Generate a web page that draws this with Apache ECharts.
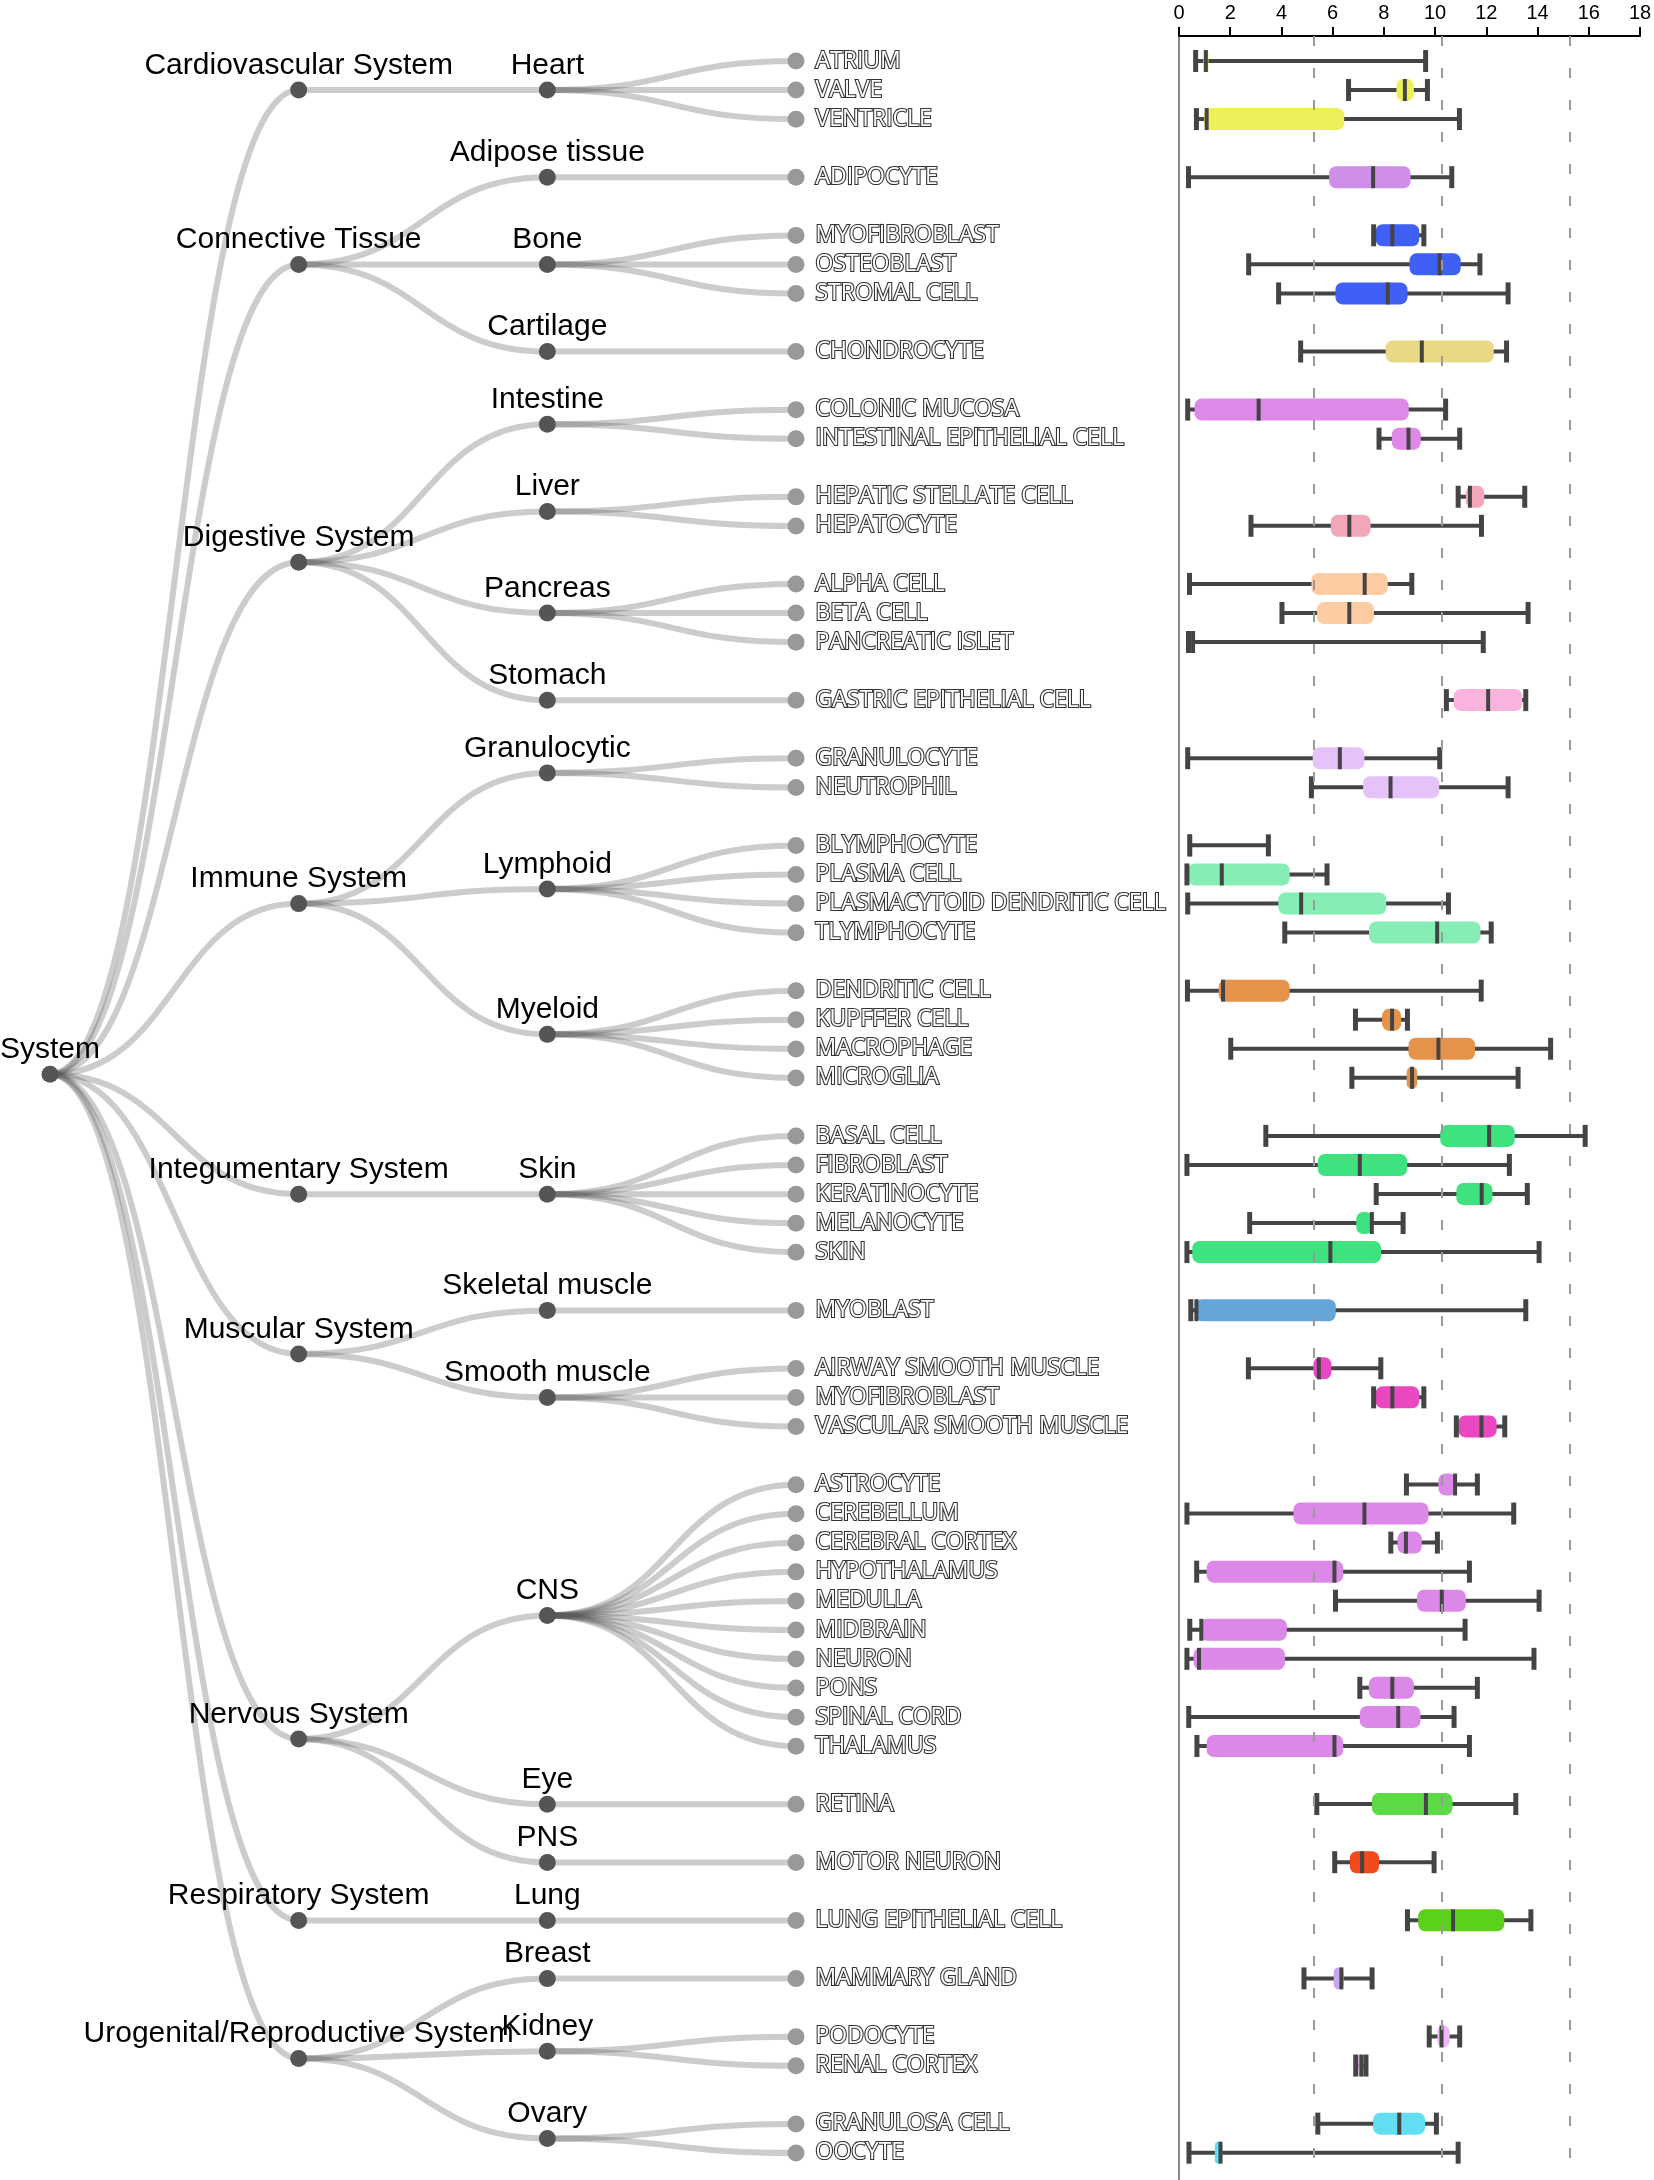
<!DOCTYPE html>
<html><head><meta charset="utf-8">
<script src="https://cdn.jsdelivr.net/npm/echarts@6/dist/echarts.min.js"></script>
<style>html,body{margin:0;padding:0;background:#fff}#c{width:1654px;height:2180px}</style>
</head><body><div id="c"></div>
<script>
const rootName = 'System';
const systems = ['Cardiovascular System','Connective Tissue','Digestive System','Immune System','Integumentary System','Muscular System','Nervous System','Respiratory System','Urogenital/Reproductive System'];
const tissues = ['Heart','Adipose tissue','Bone','Cartilage','Intestine','Liver','Pancreas','Stomach','Granulocytic','Lymphoid','Myeloid','Skin','Skeletal muscle','Smooth muscle','CNS','Eye','PNS','Lung','Breast','Kidney','Ovary'];
const tissueSystem = [0,1,1,1,2,2,2,2,3,3,3,4,5,5,6,6,6,7,8,8,8];
const tissueColors = ['#eef05a','#cf8ee9','#3f5ff5','#e9d985','#de88e8','#f2a7b9','#fdcca3','#f9b3dc','#e5c3fa','#86eeb5','#e5924a','#3ee27e','#64a6d9','#ea48c0','#dc88e8','#5bdb45','#f24a1c','#5bd119','#c9a6f0','#f2b5f7','#63ddf2'];
const cells = ['ATRIUM','VALVE','VENTRICLE','ADIPOCYTE','MYOFIBROBLAST','OSTEOBLAST','STROMAL CELL','CHONDROCYTE','COLONIC MUCOSA','INTESTINAL EPITHELIAL CELL','HEPATIC STELLATE CELL','HEPATOCYTE','ALPHA CELL','BETA CELL','PANCREATIC ISLET','GASTRIC EPITHELIAL CELL','GRANULOCYTE','NEUTROPHIL','BLYMPHOCYTE','PLASMA CELL','PLASMACYTOID DENDRITIC CELL','TLYMPHOCYTE','DENDRITIC CELL','KUPFFER CELL','MACROPHAGE','MICROGLIA','BASAL CELL','FIBROBLAST','KERATINOCYTE','MELANOCYTE','SKIN','MYOBLAST','AIRWAY SMOOTH MUSCLE','MYOFIBROBLAST','VASCULAR SMOOTH MUSCLE','ASTROCYTE','CEREBELLUM','CEREBRAL CORTEX','HYPOTHALAMUS','MEDULLA','MIDBRAIN','NEURON','PONS','SPINAL CORD','THALAMUS','RETINA','MOTOR NEURON','LUNG EPITHELIAL CELL','MAMMARY GLAND','PODOCYTE','RENAL CORTEX','GRANULOSA CELL','OOCYTE'];
const cellTissue = [0,0,0,1,2,2,2,3,4,4,5,5,6,6,6,7,8,8,9,9,9,9,10,10,10,10,11,11,11,11,11,12,13,13,13,14,14,14,14,14,14,14,14,14,14,15,16,17,18,19,19,20,20];
const boxMin    = [0.65,6.62,0.68,0.37,7.60,2.72,3.89,4.75,0.34,7.81,10.90,2.81,0.41,4.02,0.37,10.44,0.34,5.17,0.42,0.31,0.34,4.13,0.33,6.89,2.02,6.75,3.39,0.31,7.70,2.76,0.31,0.46,2.71,7.60,10.83,8.88,0.31,8.27,0.69,6.11,0.42,0.31,7.06,0.38,0.70,5.38,6.08,8.92,4.88,9.77,6.90,5.42,0.39];
const boxQ1     = [0.95,8.49,0.98,5.86,7.68,9.00,6.11,8.07,0.61,8.31,11.20,5.93,5.17,5.39,0.45,10.73,5.22,7.19,0.42,0.35,3.88,7.42,1.55,7.93,8.96,8.89,10.20,5.42,10.83,6.92,0.52,0.62,5.25,7.68,10.91,10.13,4.47,8.53,1.08,9.29,0.83,0.57,7.41,7.06,1.08,7.53,6.67,9.34,6.04,10.09,7.00,7.58,1.40];
const boxMedian = [1.05,8.82,1.08,7.58,8.33,10.18,8.15,9.48,3.11,8.96,11.36,6.65,7.25,6.65,0.55,12.07,6.28,8.26,0.42,1.67,4.77,10.08,1.72,8.32,10.13,9.10,12.11,7.06,11.82,7.53,5.91,0.68,5.46,8.33,11.81,10.78,7.24,8.86,6.07,10.26,0.87,0.78,8.33,8.56,6.07,9.64,7.15,10.70,6.34,10.25,7.12,8.60,1.62];
const boxQ3     = [1.15,9.17,6.45,9.04,9.38,11.00,8.92,12.29,8.97,9.44,11.92,7.48,8.15,7.61,0.62,13.40,7.24,10.16,0.42,4.32,8.09,11.77,4.32,8.67,11.56,9.30,13.11,8.91,12.24,7.56,7.89,6.12,5.95,9.38,12.40,10.82,9.74,9.48,6.41,11.20,4.21,4.14,9.17,9.43,6.41,10.68,7.81,12.70,6.43,10.57,7.20,9.61,1.69];
const boxMax    = [9.63,9.70,10.95,10.65,9.56,11.75,12.85,12.79,10.41,10.96,13.50,11.81,9.09,13.63,11.88,13.54,10.18,12.85,3.49,5.78,10.52,12.19,11.80,8.92,14.51,13.24,15.86,12.90,13.60,8.75,14.06,13.54,7.88,9.56,12.72,11.65,13.07,10.09,11.34,14.06,11.17,13.86,11.65,10.74,11.34,13.15,9.96,13.74,7.54,10.96,7.30,10.05,10.90];
const xTicks = [0,2,4,6,8,10,12,14,16,18];
const refLines = [5.25, 10.25, 15.25];

// build tree
const treeData = {name: rootName, children: systems.map((s, si) => ({
  name: s,
  children: tissues.map((t, ti) => ({t, ti})).filter(o => tissueSystem[o.ti] === si).map(o => ({
    name: o.t,
    children: cells.map((c, ci) => ({c, ci})).filter(k => cellTissue[k.ci] === o.ti).map(k => ({name: k.c}))
  }))
}))};

// row slot for each cell: one empty slot between tissue groups
const boxData = [];
let slot = -1;
cells.forEach((c, i) => {
  slot += (i > 0 && cellTissue[i] !== cellTissue[i - 1]) ? 2 : 1;
  boxData.push([slot, boxMin[i], boxQ1[i], boxMedian[i], boxQ3[i], boxMax[i], cellTissue[i]]);
});
const totalSlots = slot + 1;

const chart = echarts.init(document.getElementById('c'), null, {renderer: 'canvas'});
const H = 22;
chart.setOption({
  animation: false,
  backgroundColor: '#fff',
  grid: {left: 1179, right: 14, top: 36, bottom: 0, outerBoundsMode: 'none', containLabel: false},
  xAxis: {
    type: 'value', position: 'top', min: xTicks[0], max: xTicks[xTicks.length - 1], interval: 2,
    axisLine: {show: true, onZero: false, lineStyle: {color: '#000', width: 2}},
    axisTick: {show: true, inside: false, length: 9, lineStyle: {color: '#000', width: 2}},
    axisLabel: {fontSize: 20, color: '#000', margin: 13, fontFamily: 'Liberation Sans'},
    splitLine: {show: false}
  },
  yAxis: {
    type: 'value', inverse: true, min: -0.86, max: totalSlots - 1 + 0.94,
    axisLine: {show: true, onZero: false, lineStyle: {color: '#888', width: 2}},
    axisTick: {show: false}, axisLabel: {show: false}, splitLine: {show: false}
  },
  series: [
    {
      type: 'tree', data: [treeData],
      left: 50, top: 32, width: 746, height: 2150,
      orient: 'LR', layout: 'orthogonal', edgeShape: 'curve',
      initialTreeDepth: -1, expandAndCollapse: false, roam: false,
      symbol: 'circle', symbolSize: 17,
      itemStyle: {color: '#555', borderWidth: 0},
      lineStyle: {color: '#555', width: 6, opacity: 0.3, curveness: 0.5},
      label: {show: true, position: 'top', distance: 1, fontSize: 30, fontFamily: 'Liberation Sans', color: '#000', align: 'center', verticalAlign: 'bottom'},
      leaves: {
        itemStyle: {color: '#999', borderWidth: 0},
        label: {show: true, position: 'right', distance: 11, fontSize: 23, fontFamily: 'Open Sans', color: '#fff', textBorderColor: '#333', textBorderWidth: 2.2, align: 'left', verticalAlign: 'middle'}
      },
      emphasis: {disabled: true},
      silent: true
    },
    {
      type: 'custom', coordinateSystem: 'cartesian2d', data: boxData, silent: true,
      encode: {x: [1, 2, 3, 4, 5], y: 0},
      renderItem: function (params, api) {
        const s = api.value(0);
        const pMin = api.coord([api.value(1), s]);
        const pQ1 = api.coord([api.value(2), s]);
        const pMed = api.coord([api.value(3), s]);
        const pQ3 = api.coord([api.value(4), s]);
        const pMax = api.coord([api.value(5), s]);
        const color = tissueColors[api.value(6)];
        const y = pMin[1];
        const w = Math.max(pQ3[0] - pQ1[0], 0);
        const r = Math.min(7, w / 2);
        return {type: 'group', children: [
          {type: 'line', shape: {x1: pMin[0], y1: y, x2: pMax[0], y2: y}, style: {stroke: '#444', lineWidth: 4}},
          {type: 'rect', shape: {x: pQ1[0], y: y - H / 2, width: w, height: H, r: r}, style: {fill: color}},
          {type: 'rect', shape: {x: pMed[0] - 2, y: y - H / 2, width: 4, height: H}, style: {fill: '#444'}},
          {type: 'rect', shape: {x: pMin[0] - 2.5, y: y - H / 2, width: 5, height: H}, style: {fill: '#444'}},
          {type: 'rect', shape: {x: pMax[0] - 2.5, y: y - H / 2, width: 5, height: H}, style: {fill: '#444'}}
        ]};
      },
      markLine: {
        silent: true, symbol: 'none', label: {show: false},
        lineStyle: {color: '#999', width: 2, type: [10, 22]},
        data: refLines.map(v => ({xAxis: v}))
      }
    }
  ]
});
</script></body></html>
